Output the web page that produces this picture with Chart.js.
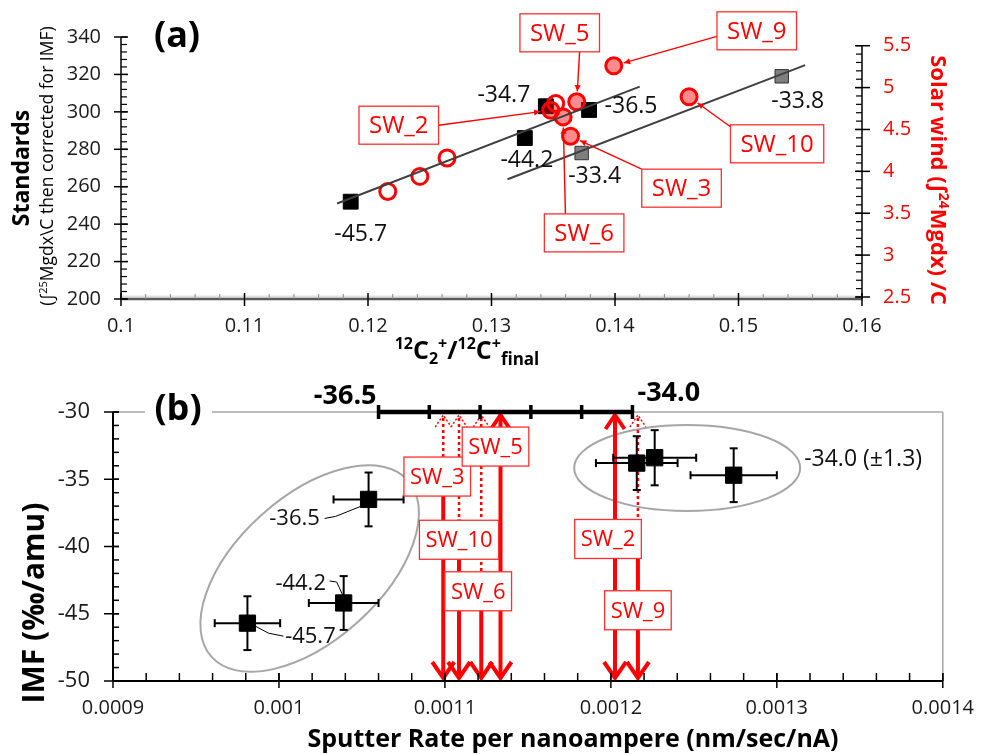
<!DOCTYPE html>
<html>
<head>
<meta charset="utf-8">
<script src="https://cdn.jsdelivr.net/npm/chart.js@4.4.1/dist/chart.umd.min.js"></script>
<style>
  html, body { margin: 0; padding: 0; background: #fff; }
  #wrap { position: relative; width: 989px; height: 754px; overflow: hidden; background: #fff; }
  canvas { position: absolute; left: 0; }
</style>
</head>
<body>
<div id="wrap">
  <canvas id="chartA" width="989" height="375" style="top:0"></canvas>
  <canvas id="chartB" width="989" height="379" style="top:375px"></canvas>
</div>
<script>
// ---- standards (shared by both panels) ----
const stdImf    = [-45.7, -44.2, -36.5, -34.7, -33.8, -33.4];
const stdGroup  = ['black', 'black', 'black', 'black', 'grey', 'grey'];
const stdRatio  = [0.1186, 0.1327, 0.1379, 0.1344, 0.1535, 0.1373];   // 12C2+/12C+ final
const stdSignal = [252, 286, 301, 303, 319, 278];                     // standards signal
const stdRate    = [0.000981, 0.001039, 0.001054, 0.001274, 0.0012156, 0.0012264];
const stdRateErr = [0.0000197, 0.000021, 0.0000211, 0.000026, 0.0000246, 0.000025];
const stdImfErr  = [2.0, 2.0, 2.0, 2.0, 2.0, 2.05];

// trend lines (panel a)
const fitBlackX = [0.1175, 0.1420];
const fitBlackY = [251, 313.5];
const fitGreyX  = [0.1313, 0.1554];
const fitGreyY  = [264, 325];

// ---- solar wind ----
const swNames  = ['SW_2', 'SW_3', 'SW_5', 'SW_6', 'SW_9', 'SW_10'];
const swRatio  = [0.1348, 0.1364, 0.1369, 0.1358, 0.1399, 0.1460];
const swSignal = [4.73, 4.42, 4.83, 4.65, 5.26, 4.89];
const swRate   = [0.0012025, 0.001099, 0.0011335, 0.0011219, 0.0012163, 0.0011085];
const swDottedTo = [null, -33.3, null, -41.9, -38.0, -38.0];
const openRatio  = [0.1216, 0.1242, 0.1264, 0.1352];
const openSignal = [3.76, 3.94, 4.16, 4.81];

// IMF bar at the top of panel b
const imfBarValues = [-36.5, -34.0];
const imfBarRate   = [0.001060, 0.001213];
const imfBarStep   = 0.5;

// ticks
const xTicksA  = [0.1, 0.11, 0.12, 0.13, 0.14, 0.15, 0.16];
const yTicksA  = [200, 220, 240, 260, 280, 300, 320, 340];
const y2TicksA = [2.5, 3, 3.5, 4, 4.5, 5, 5.5];
const xTicksB  = [0.0009, 0.001, 0.0011, 0.0012, 0.0013, 0.0014];
const yTicksB  = [-50, -45, -40, -35, -30];

const FONT = "'Open Sans', 'Noto Sans', sans-serif";
const RED = '#ff0000';
Chart.defaults.font.family = FONT;

function font(size, bold) { return (bold ? 'bold ' : '') + size + 'px ' + FONT; }
function pts(xs, ys) { return xs.map((x, i) => ({ x: x, y: ys[i] })); }
function seg(ctx, x1, y1, x2, y2) { ctx.beginPath(); ctx.moveTo(x1, y1); ctx.lineTo(x2, y2); ctx.stroke(); }

// parts: [text, size, bold, dy]
function drawRich(ctx, parts, x, y) {
  let w = 0;
  parts.forEach(p => { ctx.font = font(p[1], p[2]); w += ctx.measureText(p[0]).width; });
  let cx = x - w / 2;
  ctx.textAlign = 'left';
  ctx.textBaseline = 'alphabetic';
  parts.forEach(p => {
    ctx.font = font(p[1], p[2]);
    ctx.fillText(p[0], cx, y + (p[3] || 0));
    cx += ctx.measureText(p[0]).width;
  });
}

function arrowHead(ctx, x1, y1, x2, y2, size) {
  const ang = Math.atan2(y2 - y1, x2 - x1);
  ctx.beginPath();
  ctx.moveTo(x2, y2);
  ctx.lineTo(x2 - size * Math.cos(ang - 0.45), y2 - size * Math.sin(ang - 0.45));
  ctx.lineTo(x2 - size * Math.cos(ang + 0.45), y2 - size * Math.sin(ang + 0.45));
  ctx.closePath();
  ctx.fill();
}

function labelBox(ctx, text, cx, cy, size, padX, h) {
  ctx.font = font(size, false);
  const w = ctx.measureText(text).width + 2 * padX;
  ctx.fillStyle = '#fff';
  ctx.fillRect(cx - w / 2, cy - h / 2, w, h);
  ctx.strokeStyle = '#ff3030';
  ctx.lineWidth = 1.3;
  ctx.strokeRect(cx - w / 2, cy - h / 2, w, h);
  ctx.fillStyle = RED;
  ctx.textAlign = 'center';
  ctx.textBaseline = 'middle';
  ctx.fillText(text, cx, cy + 1);
  return w;
}

// ---------------- panel (a) ----------------
const valueLabelA = { '-45.7': [10, 33], '-44.2': [2, 22], '-36.5': [42, -4], '-34.7': [-42, -11], '-33.8': [16, 25], '-33.4': [13, 23] };
// box offset from circle, anchor on box (fractions of half size)
const swLabelA = {
  SW_2:  { d: [-152, 15],   anchor: [1, 0] },
  SW_3:  { d: [111, 52],    anchor: [-1, -1] },
  SW_5:  { d: [-17, -69],   anchor: [0.5, 1] },
  SW_6:  { d: [21, 116],    anchor: [-0.47, -1] },
  SW_9:  { d: [143, -35],   anchor: [-1, 0.29] },
  SW_10: { d: [88, 47],     anchor: [-1, -0.9] }
};

const panelA = {
  id: 'panelA',
  afterDraw(chart) {
    const ctx = chart.ctx, a = chart.chartArea;
    const xs = chart.scales.x, yl = chart.scales.y, yr = chart.scales.y2;
    ctx.save();
    ctx.lineCap = 'butt';

    // bottom axis
    ctx.strokeStyle = '#e0e0e0'; ctx.lineWidth = 2;
    seg(ctx, a.left, a.bottom - 2.5, a.right, a.bottom - 2.5);
    ctx.strokeStyle = '#595959'; ctx.lineWidth = 2.5;
    seg(ctx, a.left, a.bottom, a.right, a.bottom);
    ctx.strokeStyle = '#8a8a8a'; ctx.lineWidth = 1;
    for (let i = 1; i < 30; i++) {
      if (i % 5 === 0) continue;
      const x = xs.getPixelForValue(0.1 + i * 0.002);
      seg(ctx, x, a.bottom - 5, x, a.bottom);
    }
    ctx.strokeStyle = '#000'; ctx.lineWidth = 1.5;
    xTicksA.forEach(v => { const x = xs.getPixelForValue(v); seg(ctx, x, a.bottom - 6, x, a.bottom + 7); });

    // left axis
    const xl = a.left;
    seg(ctx, xl, yl.getPixelForValue(340), xl, a.bottom);
    ctx.lineWidth = 1.2;
    for (let i = 0; i <= 35; i++) {
      const y = yl.getPixelForValue(200 + i * 4);
      seg(ctx, xl, y, xl + 6, y);
    }
    ctx.lineWidth = 1.5;
    yTicksA.forEach(v => { const y = yl.getPixelForValue(v); seg(ctx, xl - 7, y, xl + 7, y); });

    // right axis
    const xr = a.right;
    seg(ctx, xr, yr.getPixelForValue(5.5), xr, a.bottom);
    ctx.lineWidth = 1.2;
    for (let i = 0; i <= 30; i++) {
      const y = yr.getPixelForValue(2.5 + i * 0.1);
      seg(ctx, xr - 6, y, xr, y);
    }
    ctx.lineWidth = 1.5;
    y2TicksA.forEach(v => { const y = yr.getPixelForValue(v); seg(ctx, xr - 7, y, xr + 8, y); });

    // value labels of the standards
    ctx.fillStyle = '#111';
    ctx.font = font(23, false);
    ctx.textAlign = 'center'; ctx.textBaseline = 'middle';
    stdImf.forEach((v, i) => {
      const o = valueLabelA[v.toFixed(1)];
      const x = xs.getPixelForValue(stdRatio[i]), y = yl.getPixelForValue(stdSignal[i]);
      ctx.fillText(v.toFixed(1), x + o[0], y + o[1]);
    });

    // solar wind labels
    swNames.forEach((n, i) => {
      const L = swLabelA[n];
      const cx = xs.getPixelForValue(swRatio[i]), cy = yr.getPixelForValue(swSignal[i]);
      const bx = cx + L.d[0], by = cy + L.d[1], h = 38;
      ctx.font = font(24, false);
      const w = ctx.measureText(n).width + 20;
      const ax = bx + L.anchor[0] * w / 2, ay = by + L.anchor[1] * h / 2;
      const dist = Math.hypot(cx - ax, cy - ay), r = 10.5;
      const tx = cx - (cx - ax) / dist * r, ty = cy - (cy - ay) / dist * r;
      ctx.strokeStyle = RED; ctx.fillStyle = RED; ctx.lineWidth = 1.4;
      seg(ctx, ax, ay, tx, ty);
      arrowHead(ctx, ax, ay, tx, ty, 7);
      labelBox(ctx, n, bx, by, 24, 10, h);
    });

    // panel tag
    ctx.fillStyle = '#000';
    ctx.font = font(36, true);
    ctx.textAlign = 'center'; ctx.textBaseline = 'middle';
    ctx.fillText('(a)', a.left + 56, a.top);

    // left titles
    ctx.save();
    ctx.translate(22, 168);
    ctx.rotate(-Math.PI / 2);
    ctx.font = font(23, true);
    ctx.fillStyle = '#000';
    ctx.textAlign = 'center'; ctx.textBaseline = 'middle';
    ctx.fillText('Standards', 0, 0);
    ctx.restore();
    ctx.save();
    ctx.translate(47, 166);
    ctx.rotate(-Math.PI / 2);
    ctx.fillStyle = '#000';
    drawRich(ctx, [['(\u222B', 17.5], ['25', 11, false, -6], ['Mgdx\\C then corrected for IMF)', 17.5]], 0, 6);
    ctx.restore();

    // right title
    ctx.save();
    ctx.translate(939, 180);
    ctx.rotate(Math.PI / 2);
    ctx.fillStyle = RED;
    drawRich(ctx, [['Solar wind (\u222B', 22, true], ['24', 14, true, -8], ['Mgdx) /C', 22, true]], 0, 8);
    ctx.restore();

    // x title
    ctx.fillStyle = '#000';
    drawRich(ctx, [['12', 16, true, -10], ['C', 25, true], ['2', 16, true, 5], ['+', 16, true, -10], ['/', 25, true],
                   ['12', 16, true, -10], ['C', 25, true], ['+', 16, true, -10], ['final', 17, true, 6]], 467, 359);
    ctx.restore();
  }
};

const blackIdx = stdGroup.map((g, i) => g === 'black' ? i : -1).filter(i => i >= 0);
const greyIdx = stdGroup.map((g, i) => g === 'grey' ? i : -1).filter(i => i >= 0);

new Chart(document.getElementById('chartA'), {
  type: 'scatter',
  data: {
    datasets: [
      { label: 'Fit (black standards)', data: pts(fitBlackX, fitBlackY), showLine: true, borderColor: '#404040', borderWidth: 2, pointRadius: 0, yAxisID: 'y' },
      { label: 'Fit (grey standards)', data: pts(fitGreyX, fitGreyY), showLine: true, borderColor: '#404040', borderWidth: 2, pointRadius: 0, yAxisID: 'y' },
      { label: 'Solar wind', data: pts(swRatio, swSignal), yAxisID: 'y2', pointRadius: 8, pointHoverRadius: 8, borderWidth: 3, borderColor: RED, backgroundColor: 'rgba(255,0,0,0.45)' },
      { label: 'Solar wind (open)', data: pts(openRatio, openSignal), yAxisID: 'y2', pointRadius: 8, pointHoverRadius: 8, borderWidth: 3, borderColor: RED, backgroundColor: 'rgba(255,255,255,0)' },
      { label: 'Standards (grey)', data: greyIdx.map(i => ({ x: stdRatio[i], y: stdSignal[i] })), yAxisID: 'y', pointStyle: 'rect', pointRadius: 9.5, pointHoverRadius: 9.5, backgroundColor: '#7f7f7f', borderColor: '#333', borderWidth: 1 },
      { label: 'Standards', data: blackIdx.map(i => ({ x: stdRatio[i], y: stdSignal[i] })), yAxisID: 'y', pointStyle: 'rect', pointRadius: 10.5, pointHoverRadius: 10.5, backgroundColor: '#000', borderColor: '#000', borderWidth: 1 }
    ]
  },
  options: {
    responsive: false,
    animation: false,
    events: [],
    layout: { padding: { top: 37, left: 0, right: 0, bottom: 0 } },
    plugins: { legend: { display: false }, tooltip: { enabled: false } },
    scales: {
      x: {
        type: 'linear', min: 0.1, max: 0.16,
        afterBuildTicks: s => { s.ticks = xTicksA.map(v => ({ value: v })); },
        ticks: { callback: v => String(+v.toFixed(3)), font: { size: 20 }, color: '#1a1a1a', padding: 15, maxRotation: 0, autoSkip: false },
        grid: { display: false, drawTicks: false }, border: { display: false },
        afterFit: s => { s.height = 76; }
      },
      y: {
        position: 'left', min: 200, max: 340,
        afterBuildTicks: s => { s.ticks = yTicksA.map(v => ({ value: v })); },
        ticks: { font: { size: 20 }, color: '#1a1a1a', padding: 20 },
        grid: { display: false, drawTicks: false }, border: { display: false },
        afterFit: s => { s.width = 121; }
      },
      y2: {
        position: 'right', min: 2.476, max: 5.604,
        afterBuildTicks: s => { s.ticks = y2TicksA.map(v => ({ value: v })); },
        ticks: { font: { size: 20 }, color: RED, padding: 21, callback: v => String(v) },
        grid: { display: false, drawTicks: false }, border: { display: false },
        afterFit: s => { s.width = 127; }
      }
    }
  },
  plugins: [panelA]
});

// ---------------- panel (b) ----------------
const ellipsesB = [
  { x: 0.0010185, y: -41.64, rx: 132, ry: 72, rot: -42 },
  { x: 0.00124597, y: -34.16, rx: 113, ry: 43, rot: 0 }
];
const leaderB = {
  '-45.7': { text: [63, 14], line: [[8, 3], [21, 10], [36, 13]] },
  '-44.2': { text: [-43, -19], line: [[-14, -22], [-7, -21], [-1, -8]] },
  '-36.5': { text: [-74, 19], line: [[-44, 19], [-33, 17], [-8, 7]] }
};
const swLabelB = {
  SW_2: [-7, -39.44], SW_3: [-6, -34.8], SW_5: [-5, -32.57],
  SW_6: [-3, -43.33], SW_9: [0, -44.74], SW_10: [0, -39.5]
};

function chevron(ctx, x, tip, dir, hw, hh) {
  ctx.beginPath();
  ctx.moveTo(x - hw, tip - dir * hh);
  ctx.lineTo(x, tip);
  ctx.lineTo(x + hw, tip - dir * hh);
  ctx.stroke();
}

const panelB = {
  id: 'panelB',
  beforeDatasetsDraw(chart) {
    const ctx = chart.ctx, a = chart.chartArea, xs = chart.scales.x, ys = chart.scales.y;
    ctx.save();
    // plot border (top / right)
    ctx.strokeStyle = '#a6a6a6'; ctx.lineWidth = 1.5;
    seg(ctx, a.left, a.top, a.right, a.top);
    seg(ctx, a.right, a.top, a.right, a.bottom);

    // ellipses
    ctx.strokeStyle = '#a6a6a6'; ctx.lineWidth = 2;
    ellipsesB.forEach(e => {
      ctx.beginPath();
      ctx.ellipse(xs.getPixelForValue(e.x), ys.getPixelForValue(e.y), e.rx, e.ry, e.rot * Math.PI / 180, 0, Math.PI * 2);
      ctx.stroke();
    });

    // solar wind arrows
    const top = ys.getPixelForValue(-30), bot = ys.getPixelForValue(-50);
    ctx.strokeStyle = RED; ctx.lineJoin = 'miter';
    swRate.forEach((r, i) => {
      const x = xs.getPixelForValue(r);
      let solidTop = top + 2;
      if (swDottedTo[i] !== null) {
        const yd = ys.getPixelForValue(swDottedTo[i]);
        ctx.lineWidth = 2.5; ctx.setLineDash([3, 3]);
        seg(ctx, x, top + 6, x, yd);
        ctx.lineWidth = 1.5; ctx.setLineDash([2, 2]);
        chevron(ctx, x, top + 3, -1, 8, 12);
        ctx.setLineDash([]);
        solidTop = yd;
      } else {
        ctx.lineWidth = 4;
        chevron(ctx, x, top + 3, -1, 9.5, 14);
      }
      ctx.lineWidth = 4;
      seg(ctx, x, solidTop, x, bot - 3);
      chevron(ctx, x, bot - 3, 1, 11, 16);
    });

    // IMF bar
    const xa = xs.getPixelForValue(imfBarRate[0]), xb = xs.getPixelForValue(imfBarRate[1]);
    ctx.strokeStyle = '#000'; ctx.lineWidth = 4.5;
    seg(ctx, xa, top, xb, top);
    ctx.lineWidth = 3.5;
    const n = Math.round((imfBarValues[1] - imfBarValues[0]) / imfBarStep);
    for (let k = 0; k <= n; k++) {
      const x = xa + (xb - xa) * k / n;
      seg(ctx, x, top - 7, x, top + 7);
    }
    ctx.fillStyle = '#000';
    ctx.font = font(27, true);
    ctx.textBaseline = 'middle';
    ctx.textAlign = 'right';
    ctx.fillText(imfBarValues[0].toFixed(1), xa - 2, top - 16);
    ctx.textAlign = 'left';
    ctx.fillText(imfBarValues[1].toFixed(1), xb + 5, top - 19);

    // error bars
    ctx.strokeStyle = '#000'; ctx.lineWidth = 2;
    stdRate.forEach((r, i) => {
      const x = xs.getPixelForValue(r), y = ys.getPixelForValue(stdImf[i]);
      const x1 = xs.getPixelForValue(r - stdRateErr[i]), x2 = xs.getPixelForValue(r + stdRateErr[i]);
      const y1 = ys.getPixelForValue(stdImf[i] + stdImfErr[i]), y2 = ys.getPixelForValue(stdImf[i] - stdImfErr[i]);
      seg(ctx, x1, y, x2, y); seg(ctx, x, y1, x, y2);
      seg(ctx, x1, y - 4, x1, y + 4); seg(ctx, x2, y - 4, x2, y + 4);
      seg(ctx, x - 4, y1, x + 4, y1); seg(ctx, x - 4, y2, x + 4, y2);
    });
    ctx.restore();
  },
  afterDraw(chart) {
    const ctx = chart.ctx, a = chart.chartArea, xs = chart.scales.x, ys = chart.scales.y;
    ctx.save();
    // solar wind boxes
    swNames.forEach((nm, i) => {
      const L = swLabelB[nm];
      labelBox(ctx, nm, xs.getPixelForValue(swRate[i]) + L[0], ys.getPixelForValue(L[1]), 22, 6, 39);
    });

    // axes
    ctx.strokeStyle = '#000'; ctx.lineWidth = 2;
    seg(ctx, a.left, a.top, a.left, a.bottom + 1);
    seg(ctx, a.left, a.bottom, a.right, a.bottom);
    ctx.lineWidth = 1.5;
    for (let i = 0; i <= 20; i++) {
      const y = ys.getPixelForValue(-50 + i);
      seg(ctx, a.left, y, a.left + 6, y);
    }
    yTicksB.forEach(v => { const y = ys.getPixelForValue(v); seg(ctx, a.left - 9, y, a.left + 6, y); });
    for (let i = 0; i <= 25; i++) {
      const x = xs.getPixelForValue(0.0009 + i * 0.00002);
      seg(ctx, x, a.bottom - 8, x, a.bottom);
    }
    xTicksB.forEach(v => { const x = xs.getPixelForValue(v); seg(ctx, x, a.bottom - 8, x, a.bottom + 7); });

    // value labels with leaders
    ctx.font = font(22, false);
    ctx.textAlign = 'center'; ctx.textBaseline = 'middle';
    stdImf.forEach((v, i) => {
      const L = leaderB[v.toFixed(1)];
      if (!L) return;
      const x = xs.getPixelForValue(stdRate[i]), y = ys.getPixelForValue(v);
      ctx.strokeStyle = '#000'; ctx.lineWidth = 1;
      ctx.beginPath();
      L.line.forEach((p, k) => { if (k === 0) ctx.moveTo(x + p[0], y + p[1]); else ctx.lineTo(x + p[0], y + p[1]); });
      ctx.stroke();
      ctx.fillStyle = '#111';
      ctx.fillText(v.toFixed(1), x + L.text[0], y + L.text[1]);
    });
    const e = ellipsesB[1];
    ctx.textAlign = 'left';
    ctx.font = font(23, false);
    ctx.fillText('-34.0 (\u00B11.3)', xs.getPixelForValue(e.x) + e.rx + 4, ys.getPixelForValue(e.y) - 8);

    // panel tag
    ctx.fillStyle = '#fff';
    ctx.fillRect(a.left + 32, a.top - 12, 67, 24);
    ctx.fillStyle = '#000';
    ctx.font = font(36, true);
    ctx.textAlign = 'center'; ctx.textBaseline = 'middle';
    ctx.fillText('(b)', a.left + 65, a.top - 2);

    // axis titles
    ctx.save();
    ctx.translate(35, 228);
    ctx.rotate(-Math.PI / 2);
    ctx.font = font(30, true);
    ctx.fillText('IMF (\u2030/amu)', 0, 0);
    ctx.restore();
    ctx.font = font(25, true);
    ctx.fillText('Sputter Rate per nanoampere (nm/sec/nA)', 573, 365);
    ctx.restore();
  }
};

new Chart(document.getElementById('chartB'), {
  type: 'scatter',
  data: {
    datasets: [
      { label: 'Standards', data: pts(stdRate, stdImf), pointStyle: 'rect', pointRadius: 11.5, pointHoverRadius: 11.5, backgroundColor: '#000', borderColor: '#000', borderWidth: 1 }
    ]
  },
  options: {
    responsive: false,
    animation: false,
    events: [],
    layout: { padding: { top: 37, left: 0, right: 32, bottom: 0 } },
    plugins: { legend: { display: false }, tooltip: { enabled: false } },
    scales: {
      x: {
        type: 'linear', min: 0.0009, max: 0.0014,
        afterBuildTicks: s => { s.ticks = xTicksB.map(v => ({ value: v })); },
        ticks: { callback: v => String(+v.toFixed(5)), font: { size: 20 }, color: '#1a1a1a', padding: 15, maxRotation: 0, autoSkip: false },
        grid: { display: false, drawTicks: false }, border: { display: false },
        afterFit: s => { s.height = 73; }
      },
      y: {
        min: -50, max: -30,
        afterBuildTicks: s => { s.ticks = yTicksB.map(v => ({ value: v })); },
        ticks: { font: { size: 22 }, color: '#1a1a1a', padding: 23, callback: v => String(v) },
        grid: { display: false, drawTicks: false }, border: { display: false },
        afterFit: s => { s.width = 113; }
      }
    }
  },
  plugins: [panelB]
});
</script>
</body>
</html>
